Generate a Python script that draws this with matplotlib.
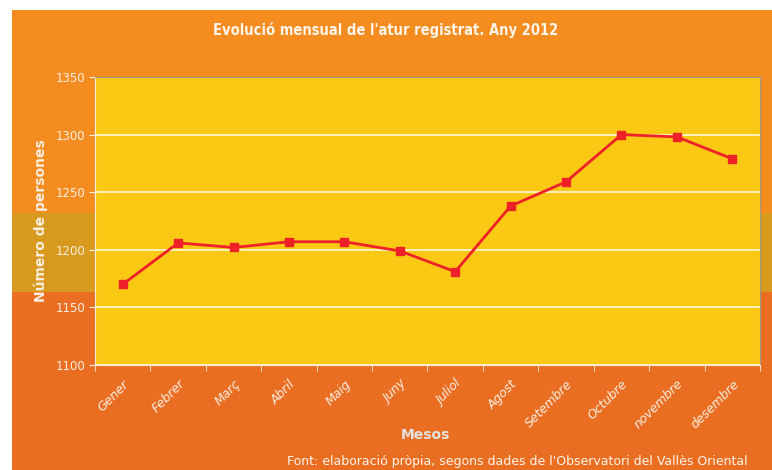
import matplotlib.pyplot as plt
from matplotlib.patches import Rectangle

# Dades
mesos = ['Gener', 'Febrer', 'Març', 'Abril', 'Maig', 'Juny', 'Juliol',
         'Agost', 'Setembre', 'Octubre', 'novembre', 'desembre']
aturats = [1170, 1206, 1202, 1207, 1207, 1199, 1181, 1238, 1259, 1300, 1298, 1279]
yticks = [1100, 1150, 1200, 1250, 1300, 1350]

W, H = 772, 470
fig = plt.figure(figsize=(W / 100, H / 100), dpi=100)
fig.patch.set_facecolor('white')

# fons taronja (en píxels de la figura, origen a dalt)
def fons(y0, y1, color):
    fig.patches.append(Rectangle((12 / W, 1 - y1 / H), (W - 12) / W, (y1 - y0) / H,
                                 transform=fig.transFigure, facecolor=color,
                                 edgecolor='none', zorder=-5))

fons(10, 213, '#F58C20')
fons(213, 292, '#D8991F')
fons(292, 470, '#EA6E22')

ax = fig.add_axes([95 / W, 1 - 365 / H, (760 - 95) / W, (365 - 77) / H])
ax.set_zorder(2)
ax.set_facecolor('#FBC914')

x = range(len(mesos))
ax.plot(x, aturats, color='#EE2129', lw=2, marker='s', ms=6, zorder=3)

ax.set_xlim(-0.5, len(mesos) - 0.5)
ax.set_ylim(1100, 1350)
ax.set_yticks(yticks)
ax.set_yticklabels([str(v) for v in yticks], color='#FBEFE2', fontsize=8.5)
ax.grid(axis='y', color='#FFF6DC', lw=1.2)
ax.set_axisbelow(True)

ax.set_xticks(list(x))
ax.set_xticklabels(mesos, rotation=45, ha='right', rotation_mode='anchor',
                   color='#FBEFE2', fontsize=9, style='italic')
ax.set_xticks([i - 0.5 for i in range(len(mesos) + 1)], minor=True)
ax.tick_params(axis='x', which='major', length=0, pad=9)
ax.tick_params(axis='x', which='minor', length=4, color='#FBEFE2')
ax.tick_params(axis='y', length=4, color='#FBEFE2', pad=3)

for s in ['left', 'bottom']:
    ax.spines[s].set_color('#FBEFE2')
for s in ['top', 'right']:
    ax.spines[s].set_color('#9A9A8A')

ax.set_ylabel('Número de persones', color='#FBEFE2', fontsize=10,
              fontweight='bold')
ax.yaxis.set_label_coords(-0.07, 0.5)

fig.text(0.5, 1 - 30 / H, "Evolució mensual de l'atur registrat. Any 2012",
         ha='center', va='center', color='#FFF5EA', fontsize=10.5,
         fontweight='bold', fontstretch='condensed')
fig.text(425 / W, 1 - 435 / H, 'Mesos', ha='center', va='center',
         color='#E3E3E3', fontsize=10, fontweight='bold')
fig.text(748 / W, 1 - 462 / H,
         "Font: elaboració pròpia, segons dades de l'Observatori del Vallès Oriental",
         ha='right', va='center', color='#FFF5EA', fontsize=9)

fig.savefig('out.png', dpi=100, facecolor=fig.get_facecolor())
